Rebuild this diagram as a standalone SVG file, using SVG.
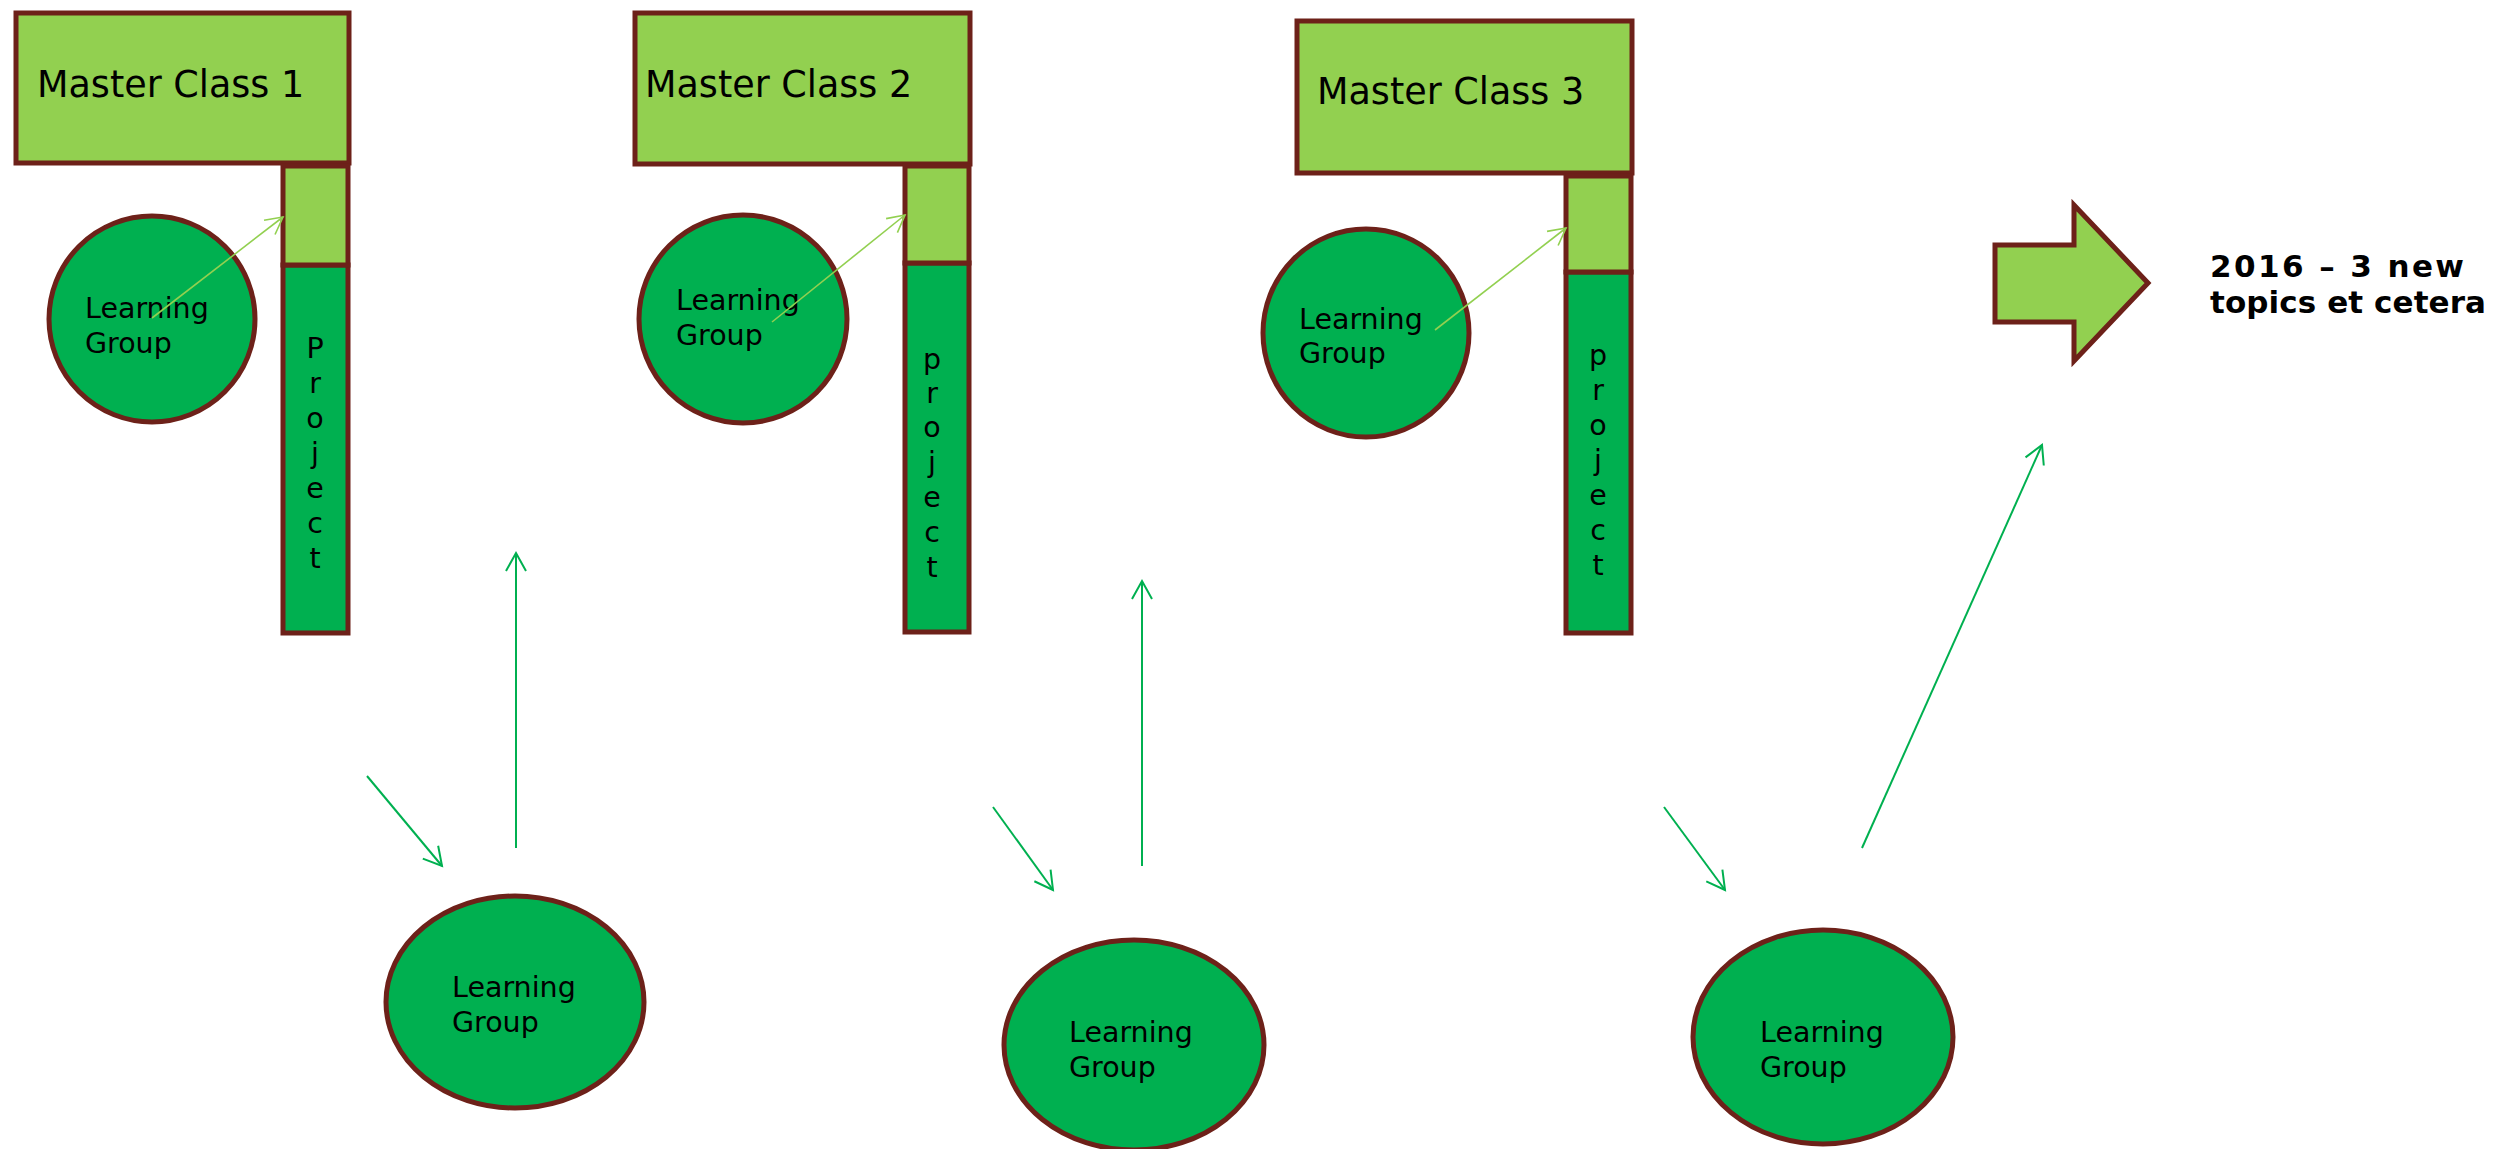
<svg xmlns="http://www.w3.org/2000/svg" width="2513" height="1149" viewBox="0 0 2513 1149">
<style>
.mc{fill:#92D050;stroke:#6D2119;stroke-width:5}
.pt{fill:#92D050;stroke:#6D2119;stroke-width:5}
.pb{fill:#00B050;stroke:#6D2119;stroke-width:5}
.lg{fill:#00B050;stroke:#6D2119;stroke-width:5}
.t{font-family:"DejaVu Sans","Verdana",sans-serif;fill:#000}
.mct{font-size:36.5px}
.lgt{font-size:28.5px}
.pj{font-size:28.5px;text-anchor:middle}
.b{font-family:"DejaVu Sans","Verdana",sans-serif;font-weight:bold;font-size:31px;fill:#000}
.ca{stroke:#00B050;stroke-width:2;fill:none;marker-end:url(#ad)}
.cl{stroke:#92D050;stroke-width:1.6;fill:none;marker-end:url(#al)}
</style>
<defs>
<marker id="ad" markerUnits="userSpaceOnUse" viewBox="-20 -12 22 24" refX="0" refY="0" markerWidth="22" markerHeight="24" orient="auto" overflow="visible">
<path d="M-18,-10 L0,0 L-18,10" fill="none" stroke="#00B050" stroke-width="2"/>
</marker>
<marker id="al" markerUnits="userSpaceOnUse" viewBox="-20 -12 22 24" refX="0" refY="0" markerWidth="22" markerHeight="24" orient="auto" overflow="visible">
<path d="M-17,-9 L0,0 L-17,9" fill="none" stroke="#92D050" stroke-width="1.6"/>
</marker>
</defs>
<rect width="2513" height="1149" fill="#fff"/>

<g id="master-class-1">
<rect class="mc" x="16" y="13" width="333" height="150"/>
<text class="t mct" x="37" y="97">Master Class 1</text>
</g>
<g id="project-1">
<rect class="pb" x="283" y="265" width="65" height="368"/>
<rect class="pt" x="283" y="166" width="65" height="99"/>
<text class="t pj"><tspan x="315" y="358">P</tspan><tspan x="315" y="393">r</tspan><tspan x="315" y="428">o</tspan><tspan x="315" y="463">j</tspan><tspan x="315" y="498">e</tspan><tspan x="315" y="533">c</tspan><tspan x="315" y="568">t</tspan></text>
</g>
<g id="learning-group-1">
<circle class="lg" cx="152" cy="319" r="103"/>
<text class="t lgt"><tspan x="85" y="318">Learning</tspan><tspan x="85" y="353">Group</tspan></text>
</g>

<g id="master-class-2">
<rect class="mc" x="635" y="13" width="335" height="151"/>
<text class="t mct" x="645" y="97">Master Class 2</text>
</g>
<g id="project-2">
<rect class="pb" x="905" y="263" width="64" height="369"/>
<rect class="pt" x="905" y="166" width="64" height="97"/>
<text class="t pj"><tspan x="932" y="369">p</tspan><tspan x="932" y="403">r</tspan><tspan x="932" y="437">o</tspan><tspan x="932" y="472">j</tspan><tspan x="932" y="507">e</tspan><tspan x="932" y="542">c</tspan><tspan x="932" y="577">t</tspan></text>
</g>
<g id="learning-group-2">
<circle class="lg" cx="743" cy="319" r="104"/>
<text class="t lgt"><tspan x="676" y="310">Learning</tspan><tspan x="676" y="345">Group</tspan></text>
</g>

<g id="master-class-3">
<rect class="mc" x="1297" y="21" width="335" height="152"/>
<text class="t mct" x="1317" y="104">Master Class 3</text>
</g>
<g id="project-3">
<rect class="pb" x="1566" y="272" width="65" height="361"/>
<rect class="pt" x="1566" y="176" width="65" height="96"/>
<text class="t pj"><tspan x="1598" y="365">p</tspan><tspan x="1598" y="400">r</tspan><tspan x="1598" y="435">o</tspan><tspan x="1598" y="470">j</tspan><tspan x="1598" y="505">e</tspan><tspan x="1598" y="540">c</tspan><tspan x="1598" y="575">t</tspan></text>
</g>
<g id="learning-group-3">
<ellipse class="lg" cx="1366" cy="333" rx="103" ry="104"/>
<text class="t lgt"><tspan x="1299" y="329">Learning</tspan><tspan x="1299" y="363">Group</tspan></text>
</g>

<g id="learning-group-4">
<ellipse class="lg" cx="515" cy="1002" rx="129" ry="106"/>
<text class="t lgt"><tspan x="452" y="997">Learning</tspan><tspan x="452" y="1032">Group</tspan></text>
</g>
<g id="learning-group-5">
<ellipse class="lg" cx="1134" cy="1045" rx="130" ry="105"/>
<text class="t lgt"><tspan x="1069" y="1042">Learning</tspan><tspan x="1069" y="1077">Group</tspan></text>
</g>
<g id="learning-group-6">
<ellipse class="lg" cx="1823" cy="1037" rx="130" ry="107"/>
<text class="t lgt"><tspan x="1760" y="1042">Learning</tspan><tspan x="1760" y="1077">Group</tspan></text>
</g>

<g id="next-arrow">
<polygon points="1995,245 2074,245 2074,205 2148,283 2074,361 2074,322 1995,322" fill="#92D050" stroke="#6D2119" stroke-width="5"/>
</g>
<g id="note">
<text class="b"><tspan x="2210" y="277" textLength="254" lengthAdjust="spacing">2016 – 3 new</tspan><tspan x="2210" y="313" textLength="276" lengthAdjust="spacing">topics et cetera</tspan></text>
</g>

<g id="connectors">
<line class="cl" x1="152" y1="318" x2="283" y2="217"/>
<line class="cl" x1="772" y1="322" x2="905" y2="215"/>
<line class="cl" x1="1435" y1="330" x2="1566" y2="228"/>
<line class="ca" x1="367" y1="776" x2="442" y2="866"/>
<line class="ca" x1="516" y1="848" x2="516" y2="553"/>
<line class="ca" x1="993" y1="807" x2="1053" y2="890"/>
<line class="ca" x1="1142" y1="866" x2="1142" y2="581"/>
<line class="ca" x1="1664" y1="807" x2="1725" y2="890"/>
<line class="ca" x1="1862" y1="848" x2="2042" y2="445"/>
</g>
</svg>
